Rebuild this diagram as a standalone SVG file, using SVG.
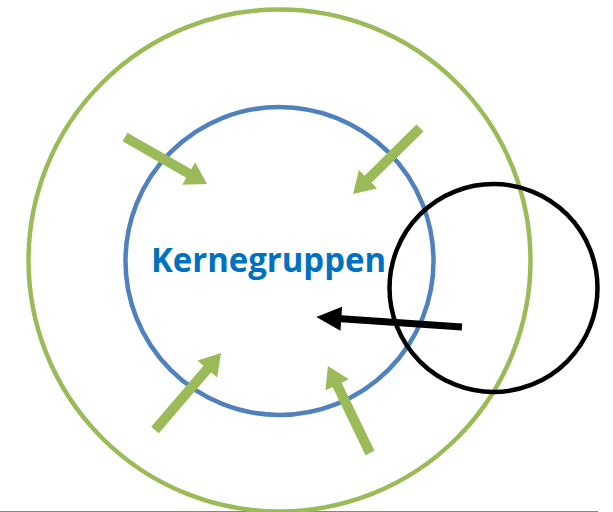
<svg xmlns="http://www.w3.org/2000/svg" width="613" height="512" viewBox="0 0 613 512">
<style>
.ring{fill:none;stroke-width:4.5}
.garrow{fill:#9BBB59}
.barrow{fill:#000}
.label{font-family:"Open Sans","Liberation Sans",Arial,sans-serif;font-weight:bold;font-size:34px;fill:#0070C0}
</style>
<rect width="613" height="512" fill="#fff"/>
<line x1="0" y1="511.5" x2="598" y2="511.5" stroke="#7f8c7f" stroke-width="1.2"/>
<g id="outer-ring"><circle class="ring" cx="279.5" cy="260.5" r="251" stroke="#9BBB59"/></g>
<g id="core"><circle class="ring" cx="279.5" cy="261" r="154" stroke="#4F81BD"/>
<text class="label" x="268.5" y="272" text-anchor="middle" textLength="235" lengthAdjust="spacingAndGlyphs">Kernegruppen</text></g>
<g id="external"><circle class="ring" cx="493.5" cy="288" r="104" stroke="#000"/></g>
<g id="connectors">
<path class="garrow" transform="translate(125,137) rotate(29.8)" d="M0,-5 H73.5 V-13 L94.5,0 L73.5,13 V5 H0 Z"/>
<path class="garrow" transform="translate(420,128) rotate(135.4)" d="M0,-5 H73 V-13 L94,0 L73,13 V5 H0 Z"/>
<path class="garrow" transform="translate(155,430) rotate(-49.4)" d="M0,-5 H80.4 V-13 L101.4,0 L80.4,13 V5 H0 Z"/>
<path class="garrow" transform="translate(370,453) rotate(-115.8)" d="M0,-5 H75.6 V-13 L96.6,0 L75.6,13 V5 H0 Z"/>
<path class="barrow" transform="translate(462,327) rotate(183.9)" d="M0,-3.5 H121 V-12 L146,0 L121,12 V3.5 H0 Z"/>
</g>
</svg>
